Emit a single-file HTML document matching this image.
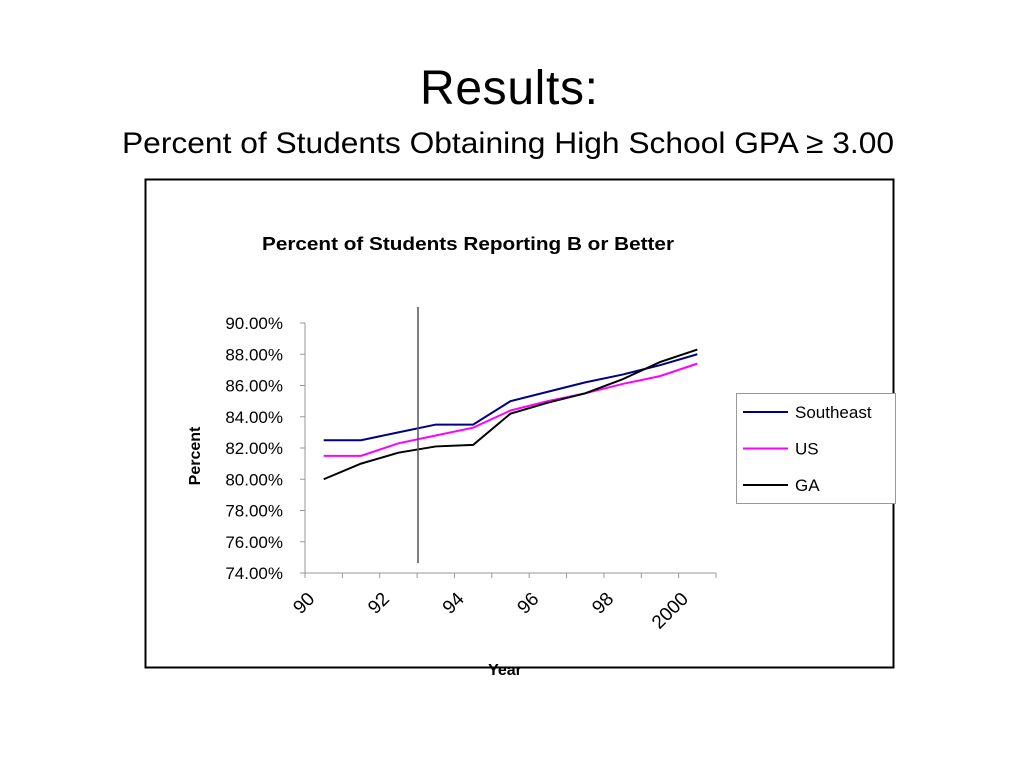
<!DOCTYPE html>
<html><head><meta charset="utf-8"><style>
body{margin:0;background:#fff;font-family:"Liberation Sans",sans-serif}
</style></head><body>
<svg width="1024" height="768" font-family="Liberation Sans, sans-serif">
<text x="509" y="104" text-anchor="middle" font-size="48" textLength="178">Results:</text>
<text x="508" y="153" text-anchor="middle" font-size="30" textLength="772" lengthAdjust="spacingAndGlyphs">Percent of Students Obtaining High School GPA ≥ 3.00</text>
<rect x="145.5" y="179.5" width="748" height="488" fill="none" stroke="#000" stroke-width="2"/>
<text x="468" y="250" text-anchor="middle" font-size="18" font-weight="bold" textLength="412" lengthAdjust="spacingAndGlyphs">Percent of Students Reporting B or Better</text>
<text transform="translate(200,456) rotate(-90)" text-anchor="middle" font-size="16" font-weight="bold">Percent</text>
<text x="505" y="675" text-anchor="middle" font-size="16" font-weight="bold">Year</text>
<g id="axes"></g>
<g id="series"></g>
<line x1="418" y1="307" x2="418" y2="563" stroke="#555" stroke-width="1.5"/>
<rect x="736.5" y="393.5" width="159" height="110" fill="#fff" stroke="#999"/>
<g id="legend"></g>
</svg>
<script>
const categories=["90","91","92","93","94","95","96","97","98","99","2000"];
const tickLabels=["90","92","94","96","98","2000"];
const yTicks=[74,76,78,80,82,84,86,88,90];
const seriesNames=["Southeast","US","GA"];
const seriesColors=["#000080","#ff00ff","#000000"];
const southeast=[82.5,82.5,83.0,83.5,83.5,85.0,85.6,86.2,86.7,87.3,88.0];
const us=[81.5,81.5,82.3,82.8,83.3,84.4,85.0,85.5,86.1,86.6,87.4];
const ga=[80.0,81.0,81.7,82.1,82.2,84.2,84.9,85.5,86.4,87.5,88.3];
const NS="http://www.w3.org/2000/svg";
const x0=305,x1=716,y0=573,y1=323,ymin=74,ymax=90;
const step=(x1-x0)/categories.length;
const xs=i=>x0+step*(i+0.5);
const ys=v=>y0-(v-ymin)/(ymax-ymin)*(y0-y1);
function mk(t,a,p){const e=document.createElementNS(NS,t);for(const k in a)e.setAttribute(k,a[k]);p.appendChild(e);return e;}
const ax=document.getElementById('axes');
let e=mk('line',{x1:x0,y1:y1,x2:x0,y2:y0,stroke:'#999'},ax);


e=mk('line',{x1:x0,y1:y0,x2:x1,y2:y0,stroke:'#999'},ax);


yTicks.forEach(v=>{
 const t=mk('line',{x1:x0-5,y1:ys(v),x2:x0,y2:ys(v),stroke:'#999'},ax);
 
 
 const l=mk('text',{x:x0-22,y:ys(v)+6,'text-anchor':'end','font-size':17},ax);
 l.textContent=v.toFixed(2)+'%';
 
 
});
for(let i=0;i<=categories.length;i++){
 const t=mk('line',{x1:x0+step*i,y1:y0,x2:x0+step*i,y2:y0+5,stroke:'#999'},ax);
 
 
}
categories.forEach((c,i)=>{
 if(!tickLabels.includes(c))return;
 const cx=xs(i)-8,cy=600;
 const l=mk('text',{x:cx,y:cy,'text-anchor':'end','font-size':19,transform:`rotate(-45 ${cx} ${cy})`},ax);
 l.textContent=c;
 
 
});
const sg=document.getElementById('series');
[southeast,us,ga].forEach((d,k)=>{
 const p=mk('polyline',{points:d.map((v,i)=>xs(i)+','+ys(v)).join(' '),fill:'none',stroke:seriesColors[k],'stroke-width':2},sg);
 
 
});
const lg=document.getElementById('legend');
seriesNames.forEach((n,k)=>{
 const y=412+k*36.5;
 const l=mk('line',{x1:743,y1:y,x2:788,y2:y,stroke:seriesColors[k],'stroke-width':2},lg);
 
 
 const t=mk('text',{x:795,y:y+6,'font-size':17},lg);
 t.textContent=n;
 
 
});
</script>
</body></html>
